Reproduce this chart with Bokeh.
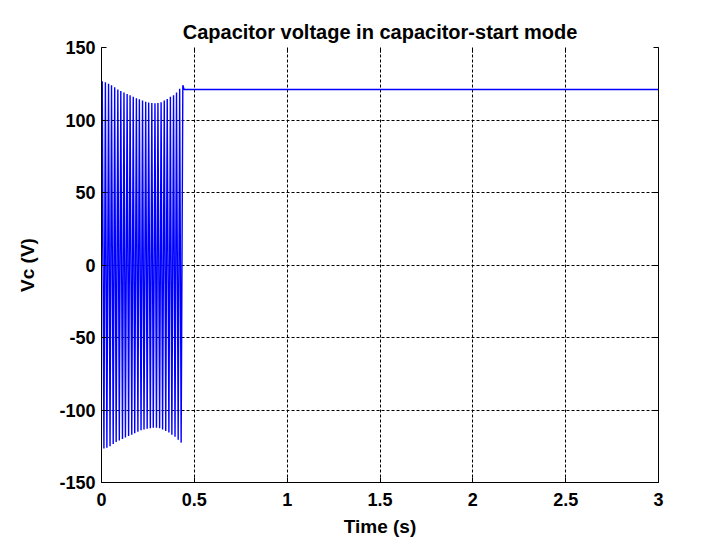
from bokeh.plotting import figure
from bokeh.models import FixedTicker, LinearAxis, Range1d, CustomJSTickFormatter
from bokeh.embed import file_html
from bokeh.resources import INLINE

# --- data ---
peak_times = [0.004, 0.021, 0.038, 0.054, 0.071, 0.088, 0.104, 0.121, 0.138, 0.154,
              0.171, 0.188, 0.204, 0.221, 0.238, 0.254, 0.271, 0.288, 0.304, 0.321,
              0.338, 0.354, 0.371, 0.388, 0.404, 0.421, 0.438]
peak_values = [126.8, 126.0, 125.0, 124.0, 122.5, 121.0, 120.0, 119.0, 118.0, 117.0,
               116.0, 115.0, 114.3, 113.5, 112.5, 112.0, 111.8, 111.5, 111.7, 112.2,
               113.5, 114.5, 116.0, 117.0, 119.0, 121.5, 124.0]
trough_times = [0.013, 0.029, 0.046, 0.063, 0.079, 0.096, 0.113, 0.129, 0.146, 0.163,
                0.179, 0.196, 0.213, 0.229, 0.246, 0.263, 0.279, 0.296, 0.313, 0.329,
                0.346, 0.363, 0.379, 0.396, 0.413, 0.429]
trough_values = [-126.5, -126.0, -125.0, -123.5, -122.0, -121.0, -120.0, -119.0, -118.0, -117.0,
                 -116.0, -115.0, -114.0, -113.5, -113.0, -112.5, -112.2, -112.2, -112.5, -113.5,
                 -114.5, -115.5, -117.0, -118.5, -120.5, -122.5]
start_time, start_value = 0.0, 0.0
hold_times = [0.445, 3.0]
hold_values = [121.0, 121.0]

x_ticks = [0, 0.5, 1, 1.5, 2, 2.5, 3]
x_tick_labels = ["0", "0.5", "1", "1.5", "2", "2.5", "3"]
y_ticks = [-150, -100, -50, 0, 50, 100, 150]
y_tick_labels = ["-150", "-100", "-50", "0", "50", "100", "150"]

# assemble the trace: start, alternate peaks and troughs, then the held value
xs = [start_time]
ys = [start_value]
for i in range(len(peak_times)):
    xs.append(peak_times[i]); ys.append(peak_values[i])
    if i < len(trough_times):
        xs.append(trough_times[i]); ys.append(trough_values[i])
xs += hold_times
ys += hold_values

FONT = "Liberation Sans"

p = figure(width=708, height=539, output_backend="svg", toolbar_location=None,
           x_range=Range1d(0, 3), y_range=Range1d(-150, 150),
           title="Capacitor voltage in capacitor-start mode",
           min_border_left=101, min_border_right=50, min_border_top=47, min_border_bottom=53)
p.outline_line_color = None
p.background_fill_color = "white"
p.border_fill_color = "white"

p.title.text_font = FONT
p.title.text_font_size = "20px"
p.title.text_font_style = "bold"
p.title.text_color = "black"
p.title.align = "center"

p.line(xs, ys, line_color="#0000FF", line_width=1.4)

for ax in (p.xaxis[0], p.yaxis[0]):
    ax.major_label_text_font = FONT
    ax.major_label_text_font_size = "18px"
    ax.major_label_text_font_style = "bold"
    ax.major_label_text_color = "black"
    ax.axis_label_text_font = FONT
    ax.axis_label_text_font_size = "19px"
    ax.axis_label_text_font_style = "bold"
    ax.axis_label_text_color = "black"
    ax.axis_line_color = "black"
    ax.major_tick_line_color = "black"
    ax.major_tick_in = 5
    ax.major_tick_out = 0
    ax.minor_tick_line_color = None

p.xaxis[0].ticker = FixedTicker(ticks=x_ticks)
p.yaxis[0].ticker = FixedTicker(ticks=y_ticks)
p.xaxis[0].major_label_overrides = {t: s for t, s in zip(x_ticks, x_tick_labels)}
p.yaxis[0].major_label_overrides = {t: s for t, s in zip(y_ticks, y_tick_labels)}
p.xaxis[0].axis_label = "Time (s)"
p.yaxis[0].axis_label = "Vc (V)"
p.xaxis[0].major_label_standoff = 10
p.xaxis[0].axis_label_standoff = 7
p.yaxis[0].major_label_standoff = 6
p.yaxis[0].axis_label_standoff = 18

blank = CustomJSTickFormatter(code="return '';")
right = LinearAxis(ticker=FixedTicker(ticks=y_ticks), formatter=blank,
                   axis_line_color="black", major_tick_line_color="black",
                   major_tick_in=5, major_tick_out=0, minor_tick_line_color=None,
                   major_label_standoff=0)
p.add_layout(right, "right")
top = LinearAxis(ticker=FixedTicker(ticks=x_ticks), formatter=blank,
                 axis_line_color=None, major_tick_line_color="black",
                 major_tick_in=5, major_tick_out=0, minor_tick_line_color=None,
                 major_label_standoff=0)
p.add_layout(top, "above")

for g in (p.xgrid[0], p.ygrid[0]):
    g.grid_line_color = "black"
    g.grid_line_dash = "3 2"
    g.grid_line_width = 1
p.xgrid[0].ticker = FixedTicker(ticks=x_ticks)
p.ygrid[0].ticker = FixedTicker(ticks=y_ticks)

open("out.html", "w").write(file_html(p, INLINE))
